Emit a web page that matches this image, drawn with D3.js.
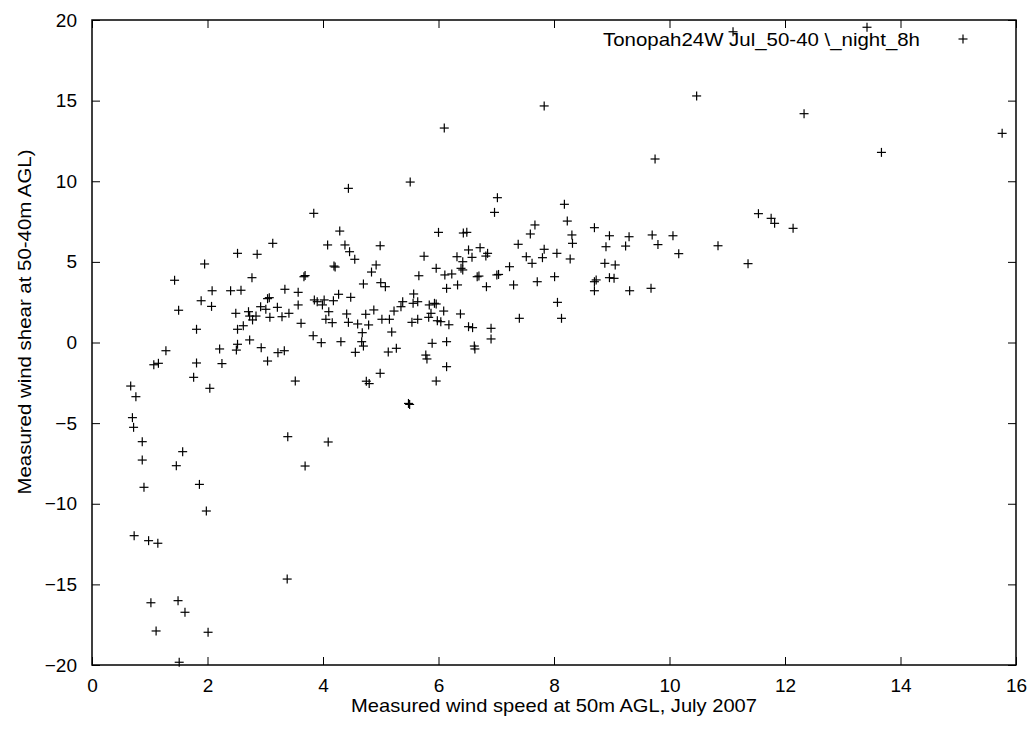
<!DOCTYPE html>
<html>
<head>
<meta charset="utf-8" />
<script src="https://d3js.org/d3.v7.min.js"></script>
<style>
  body { margin: 0; background: #fff; }
  text { font-family: "Liberation Sans", Arial, sans-serif; font-size: 19px; fill: #000; }
  .pt { stroke: #000; stroke-width: 1.2px; }
</style>
</head>
<body>
<svg id="chart" width="1034" height="733"></svg>
<script>

// wind speed (x) vs wind shear (y)
var points = [
  [0.67,-2.70],[0.76,-3.36],[0.70,-4.66],[0.72,-5.26],[0.87,-6.15],[0.87,-7.29],[0.90,-8.98],
  [1.76,-2.16],[2.04,-2.84],[3.52,-2.39],[1.57,-6.77],[1.46,-7.64],[3.39,-5.84],[3.69,-7.66],
  [1.86,-8.80],[1.98,-10.45],[0.73,-11.98],[0.98,-12.29],[1.14,-12.45],[3.38,-14.67],
  [1.02,-16.14],[1.49,-16.01],[1.61,-16.73],[1.11,-17.89],[2.01,-17.97],[1.51,-19.83],
  [4.09,-6.17],[4.75,-2.40],[4.80,-2.55],[5.96,-2.39],[5.48,-3.78],[5.50,-3.84],
  [3.13,6.15],[2.52,5.53],[2.86,5.47],[1.95,4.87],[1.43,3.86],[2.77,4.02],[3.67,4.08],[3.69,4.15],
  [2.08,3.21],[2.40,3.21],[2.58,3.24],[3.34,3.30],[3.57,3.11],[1.89,2.59],[2.07,2.24],[3.07,2.78],
  [3.04,2.72],[3.57,2.33],[1.50,2.00],[2.49,1.81],[2.71,1.91],[2.73,1.64],[2.84,1.64],[2.92,2.22],
  [3.01,2.06],[3.21,2.18],[3.08,1.56],[3.29,1.60],[3.41,1.81],[2.78,1.40],[2.62,1.04],[2.52,0.82],
  [1.81,0.82],[2.73,0.16],[3.62,1.19],[2.52,-0.11],[2.50,-0.47],[2.21,-0.40],[2.93,-0.32],
  [3.22,-0.63],[3.33,-0.51],[1.28,-0.51],[1.15,-1.29],[1.07,-1.38],[1.81,-1.27],[2.25,-1.31],[3.04,-1.15],
  [4.44,9.56],[5.51,9.95],[3.84,8.01],[7.02,8.98],[6.97,8.07],[4.29,6.91],[4.08,6.05],[4.38,6.05],
  [4.46,5.63],[4.55,5.16],[4.99,6.00],[6.00,6.83],[6.43,6.79],[6.49,6.83],[7.67,7.29],[7.59,6.73],
  [7.38,6.09],[6.72,5.88],[6.52,5.74],[6.85,5.53],[6.82,5.36],[6.58,5.28],[6.32,5.32],[6.42,5.01],
  [6.39,4.60],[6.42,4.50],[5.75,5.35],[5.96,4.60],[6.11,4.19],[6.23,4.25],[6.67,4.08],[6.70,4.12],
  [7.01,4.19],[7.04,4.22],[7.23,4.70],[7.52,5.32],[7.62,4.91],[7.30,3.57],[7.71,3.77],[6.83,3.46],
  [6.33,3.57],[6.14,3.36],[5.66,4.14],[4.92,4.81],[4.84,4.37],[4.19,4.74],[4.21,4.68],[4.70,3.63],
  [5.00,3.71],[5.08,3.46],[4.27,2.99],[4.48,2.80],[3.85,2.64],[3.90,2.53],[4.02,2.64],[4.18,2.59],
  [3.99,2.33],[4.10,1.91],[4.05,1.44],[4.16,1.23],[3.83,0.42],[3.97,-0.01],[4.31,0.05],[4.41,1.77],
  [4.44,1.25],[4.60,1.15],[4.74,1.75],[4.88,2.02],[4.79,1.09],[4.68,0.61],[4.67,0.05],[4.70,-0.22],
  [4.56,-0.61],[5.02,1.44],[5.15,1.44],[5.19,0.65],[5.13,-0.59],[5.27,-0.36],[5.23,1.95],[5.35,2.22],
  [5.38,2.53],[5.57,3.01],[5.56,2.43],[5.64,2.53],[5.54,1.25],[5.64,1.44],[5.84,2.33],[5.93,2.43],
  [5.96,2.39],[5.87,1.81],[5.83,1.56],[5.98,1.35],[6.04,1.29],[6.09,1.95],[6.18,1.10],[6.38,1.77],
  [6.52,0.98],[6.59,0.92],[6.91,0.88],[6.91,0.22],[7.40,1.50],[6.62,-0.22],[6.63,-0.40],[5.89,-0.05],
  [6.14,0.05],[5.78,-0.78],[5.80,-1.02],[6.14,-1.50],[4.99,-1.91],
  [7.83,14.67],[9.75,11.38],[8.18,8.57],[8.23,7.53],[8.31,6.67],[8.32,6.15],[8.70,7.12],[8.96,6.62],
  [9.30,6.56],[9.70,6.67],[10.06,6.62],[9.80,6.07],[10.16,5.51],[8.90,5.94],[9.24,5.98],[10.84,6.00],
  [11.54,7.99],[11.76,7.70],[11.82,7.39],[11.36,4.89],[7.83,5.78],[7.80,5.26],[8.05,5.53],[8.28,5.18],
  [8.88,4.91],[9.06,4.81],[8.73,3.88],[8.70,3.77],[8.96,4.02],[9.04,3.98],[8.70,3.21],[9.31,3.21],
  [9.68,3.36],[8.01,4.08],[8.06,2.49],[8.13,1.50],
  [13.42,19.55],[12.33,14.19],[13.67,11.79],[15.76,12.97],[12.14,7.08],[10.47,15.29],[6.10,13.30],[11.10,19.27]
];

var xTicks = [0, 2, 4, 6, 8, 10, 12, 14, 16];
var yTicks = [-20, -15, -10, -5, 0, 5, 10, 15, 20];
var seriesName = "Tonopah24W Jul_50-40 \\_night_8h";
var xTitle = "Measured wind speed at 50m AGL, July 2007";
var yTitle = "Measured wind shear  at 50-40m AGL)";

var plotLeft = 92, plotRight = 1016, plotTop = 20, plotBottom = 665;
var svg = d3.select("#chart");

var x = d3.scaleLinear().domain([0, 16]).range([plotLeft, plotRight]);
var y = d3.scaleLinear().domain([-20, 20]).range([plotBottom, plotTop]);

var tickLen = 8;

// ticks on all four sides, pointing inward
svg.append("g").attr("transform", "translate(0," + plotBottom + ")")
  .call(d3.axisBottom(x).tickValues(xTicks).tickSize(-tickLen).tickPadding(14));
svg.append("g").attr("transform", "translate(0," + plotTop + ")")
  .call(d3.axisTop(x).tickValues(xTicks).tickSize(-tickLen).tickFormat(""));
svg.append("g").attr("transform", "translate(" + plotLeft + ",0)")
  .call(d3.axisLeft(y).tickValues(yTicks).tickSize(-tickLen).tickPadding(15));
svg.append("g").attr("transform", "translate(" + plotRight + ",0)")
  .call(d3.axisRight(y).tickValues(yTicks).tickSize(-tickLen).tickFormat(""));

svg.selectAll(".domain").remove();
svg.selectAll(".tick line").attr("stroke", "#000").attr("stroke-width", 1);
svg.selectAll(".tick text").attr("font-size", 19).attr("font-family", "Liberation Sans, Arial, sans-serif");

svg.append("rect")
  .attr("x", plotLeft).attr("y", plotTop)
  .attr("width", plotRight - plotLeft).attr("height", plotBottom - plotTop)
  .attr("fill", "none").attr("stroke", "#000").attr("stroke-width", 1.5);

// crosses
var s = 4.5;
var marks = svg.append("g");
points.forEach(function(d) {
  var cx = x(d[0]), cy = y(d[1]);
  marks.append("line").attr("class", "pt")
    .attr("x1", cx - s).attr("x2", cx + s).attr("y1", cy).attr("y2", cy);
  marks.append("line").attr("class", "pt")
    .attr("x1", cx).attr("x2", cx).attr("y1", cy - s).attr("y2", cy + s);
});

// legend
svg.append("text").attr("x", 920).attr("y", 46)
  .attr("text-anchor", "end")
  .attr("textLength", 317).attr("lengthAdjust", "spacingAndGlyphs")
  .text(seriesName);
var lx = 963, ly = 39;
svg.append("line").attr("class", "pt").attr("x1", lx - s).attr("x2", lx + s).attr("y1", ly).attr("y2", ly);
svg.append("line").attr("class", "pt").attr("x1", lx).attr("x2", lx).attr("y1", ly - s).attr("y2", ly + s);

// axis titles
svg.append("text").attr("x", (plotLeft + plotRight) / 2).attr("y", 712)
  .attr("text-anchor", "middle")
  .attr("textLength", 406).attr("lengthAdjust", "spacingAndGlyphs")
  .text(xTitle);
svg.append("text")
  .attr("transform", "translate(31,322) rotate(-90)")
  .attr("text-anchor", "middle")
  .attr("textLength", 345).attr("lengthAdjust", "spacingAndGlyphs")
  .text(yTitle);

</script>
</body>
</html>
